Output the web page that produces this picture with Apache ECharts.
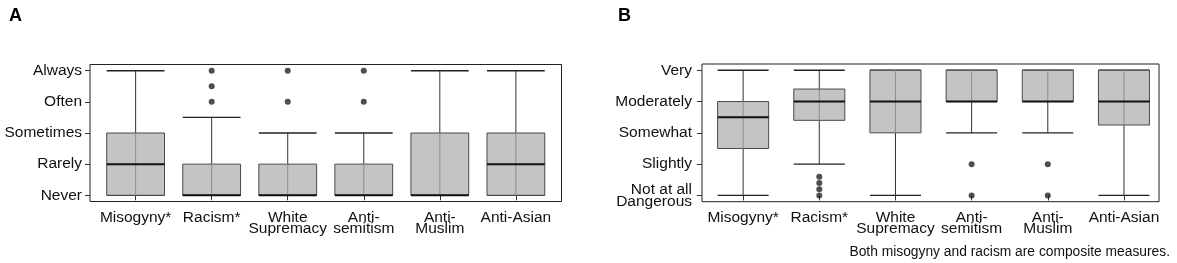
<!DOCTYPE html>
<html>
<head>
<meta charset="utf-8">
<script src="https://cdn.jsdelivr.net/npm/echarts@6/dist/echarts.min.js"></script>
<style>
  html, body { margin: 0; padding: 0; background: #fff; }
  #chart { width: 1177px; height: 263px; }
</style>
</head>
<body>
<div id="chart"></div>
<script>
const categories = ["Misogyny*", "Racism*", "White\nSupremacy", "Anti-\nsemitism", "Anti-\nMuslim", "Anti-Asian"];
const freqLevels = ["Never", "Rarely", "Sometimes", "Often", "Always"];
const dangerLevels = ["Not at all\nDangerous", "Slightly", "Somewhat", "Moderately", "Very"];

// [low whisker, q1, median, q3, high whisker]
const freqBoxes = [
  [0, 0, 1, 2, 4],
  [0, 0, 0, 1, 2.5],
  [0, 0, 0, 1, 2],
  [0, 0, 0, 1, 2],
  [0, 0, 0, 2, 4],
  [0, 0, 1, 2, 4],
];
const freqOutliers = [[], [3, 3.5, 4], [3, 4], [3, 4], [], []];

const dangerBoxes = [
  [0, 1.5, 2.5, 3, 4],
  [1, 2.4, 3, 3.4, 4],
  [0, 2, 3, 4, 4],
  [2, 3, 3, 4, 4],
  [2, 3, 3, 4, 4],
  [0, 2.25, 3, 4, 4],
];
const dangerOutliers = [[], [0, 0.2, 0.4, 0.6], [], [0, 1], [0, 1], []];

const font = "'Liberation Sans', Arial, Helvetica, sans-serif";
const ticks = categories.map((c, i) => i + 1);

const boxRenderer = (boxWidth) => (params, api) => {
  const x = api.value(0);
  const [lo, q1, md, q3, hi] = [1, 2, 3, 4, 5].map((d) => api.value(d));
  const hw = api.size([boxWidth, 0])[0] / 2;
  const cx = api.coord([x, 0])[0];
  const y = (v) => api.coord([x, v])[1];
  const line = (x1, y1, x2, y2, stroke, lineWidth) => ({
    type: "line",
    shape: { x1, y1, x2, y2 },
    style: { stroke, lineWidth },
  });
  return {
    type: "group",
    children: [
      line(cx, y(q3), cx, y(hi), "#333", 1),
      line(cx, y(lo), cx, y(q1), "#333", 1),
      line(cx - hw, y(hi), cx + hw, y(hi), "#222", 1.3),
      line(cx - hw, y(lo), cx + hw, y(lo), "#222", 1.3),
      {
        type: "rect",
        shape: { x: cx - hw, y: y(q3), width: hw * 2, height: y(q1) - y(q3) },
        style: { fill: "#c4c4c4", stroke: "#4a4a4a", lineWidth: 1 },
      },
      line(cx, y(q3), cx, y(q1), "#8e8e8e", 1),
      line(cx - hw, y(md), cx + hw, y(md), "#111", 2),
    ],
  };
};

const xAxisFor = (gridIndex, min, max) => ({
  type: "value",
  gridIndex,
  min,
  max,
  splitLine: { show: false },
  axisLine: { show: false },
  axisTick: { show: true, customValues: ticks, length: 5, lineStyle: { color: "#333" } },
  axisLabel: {
    customValues: ticks,
    formatter: (v) => categories[Math.round(v) - 1],
    color: "#111",
    fontFamily: font,
    fontSize: 15.5,
    lineHeight: 11.5,
    margin: 10,
  },
});

const yAxisFor = (gridIndex, levels, margin) => ({
  type: "value",
  gridIndex,
  min: -0.2,
  max: 4.2,
  splitLine: { show: false },
  axisLine: { show: false },
  axisTick: { show: true, customValues: [0, 1, 2, 3, 4], length: 5, lineStyle: { color: "#333" } },
  axisLabel: {
    customValues: [0, 1, 2, 3, 4],
    formatter: (v) => levels[Math.round(v)],
    color: "#111",
    fontFamily: font,
    fontSize: 15.5,
    lineHeight: 12,
    margin,
  },
});

const outlierPoints = (outliers) =>
  outliers.flatMap((arr, i) => arr.map((v) => [i + 1, v]));

const chart = echarts.init(document.getElementById("chart"));
chart.setOption({
  animation: false,
  title: [
    { text: "A", left: 4, top: 2, textStyle: { fontFamily: font, fontSize: 18, fontWeight: "bold", color: "#000" } },
    { text: "B", left: 613, top: 2, textStyle: { fontFamily: font, fontSize: 18, fontWeight: "bold", color: "#000" } },
    {
      text: "Both misogyny and racism are composite measures.",
      right: 2,
      top: 240,
      textStyle: { fontFamily: font, fontSize: 13.8, fontWeight: "normal", color: "#111" },
    },
  ],
  grid: [
    { left: 90, top: 64.5, width: 471.5, height: 137, show: true, borderColor: "#222", borderWidth: 1, backgroundColor: "transparent" },
    { left: 702, top: 64, width: 457, height: 137.7, show: true, borderColor: "#222", borderWidth: 1, backgroundColor: "transparent" },
  ],
  xAxis: [xAxisFor(0, 0.4, 6.6), xAxisFor(1, 0.46, 6.46)],
  yAxis: [yAxisFor(0, freqLevels, 8), yAxisFor(1, dangerLevels, 10)],
  series: [
    {
      type: "custom",
      xAxisIndex: 0,
      yAxisIndex: 0,
      renderItem: boxRenderer(0.76),
      encode: { x: 0, y: [1, 2, 3, 4, 5] },
      data: freqBoxes.map((b, i) => [i + 1, ...b]),
    },
    {
      type: "scatter",
      xAxisIndex: 0,
      yAxisIndex: 0,
      symbolSize: 6,
      itemStyle: { color: "#222" },
      data: outlierPoints(freqOutliers),
    },
    {
      type: "custom",
      xAxisIndex: 1,
      yAxisIndex: 1,
      renderItem: boxRenderer(0.67),
      encode: { x: 0, y: [1, 2, 3, 4, 5] },
      data: dangerBoxes.map((b, i) => [i + 1, ...b]),
    },
    {
      type: "scatter",
      xAxisIndex: 1,
      yAxisIndex: 1,
      symbolSize: 6,
      itemStyle: { color: "#222" },
      data: outlierPoints(dangerOutliers),
    },
  ],
});
</script>
</body>
</html>
